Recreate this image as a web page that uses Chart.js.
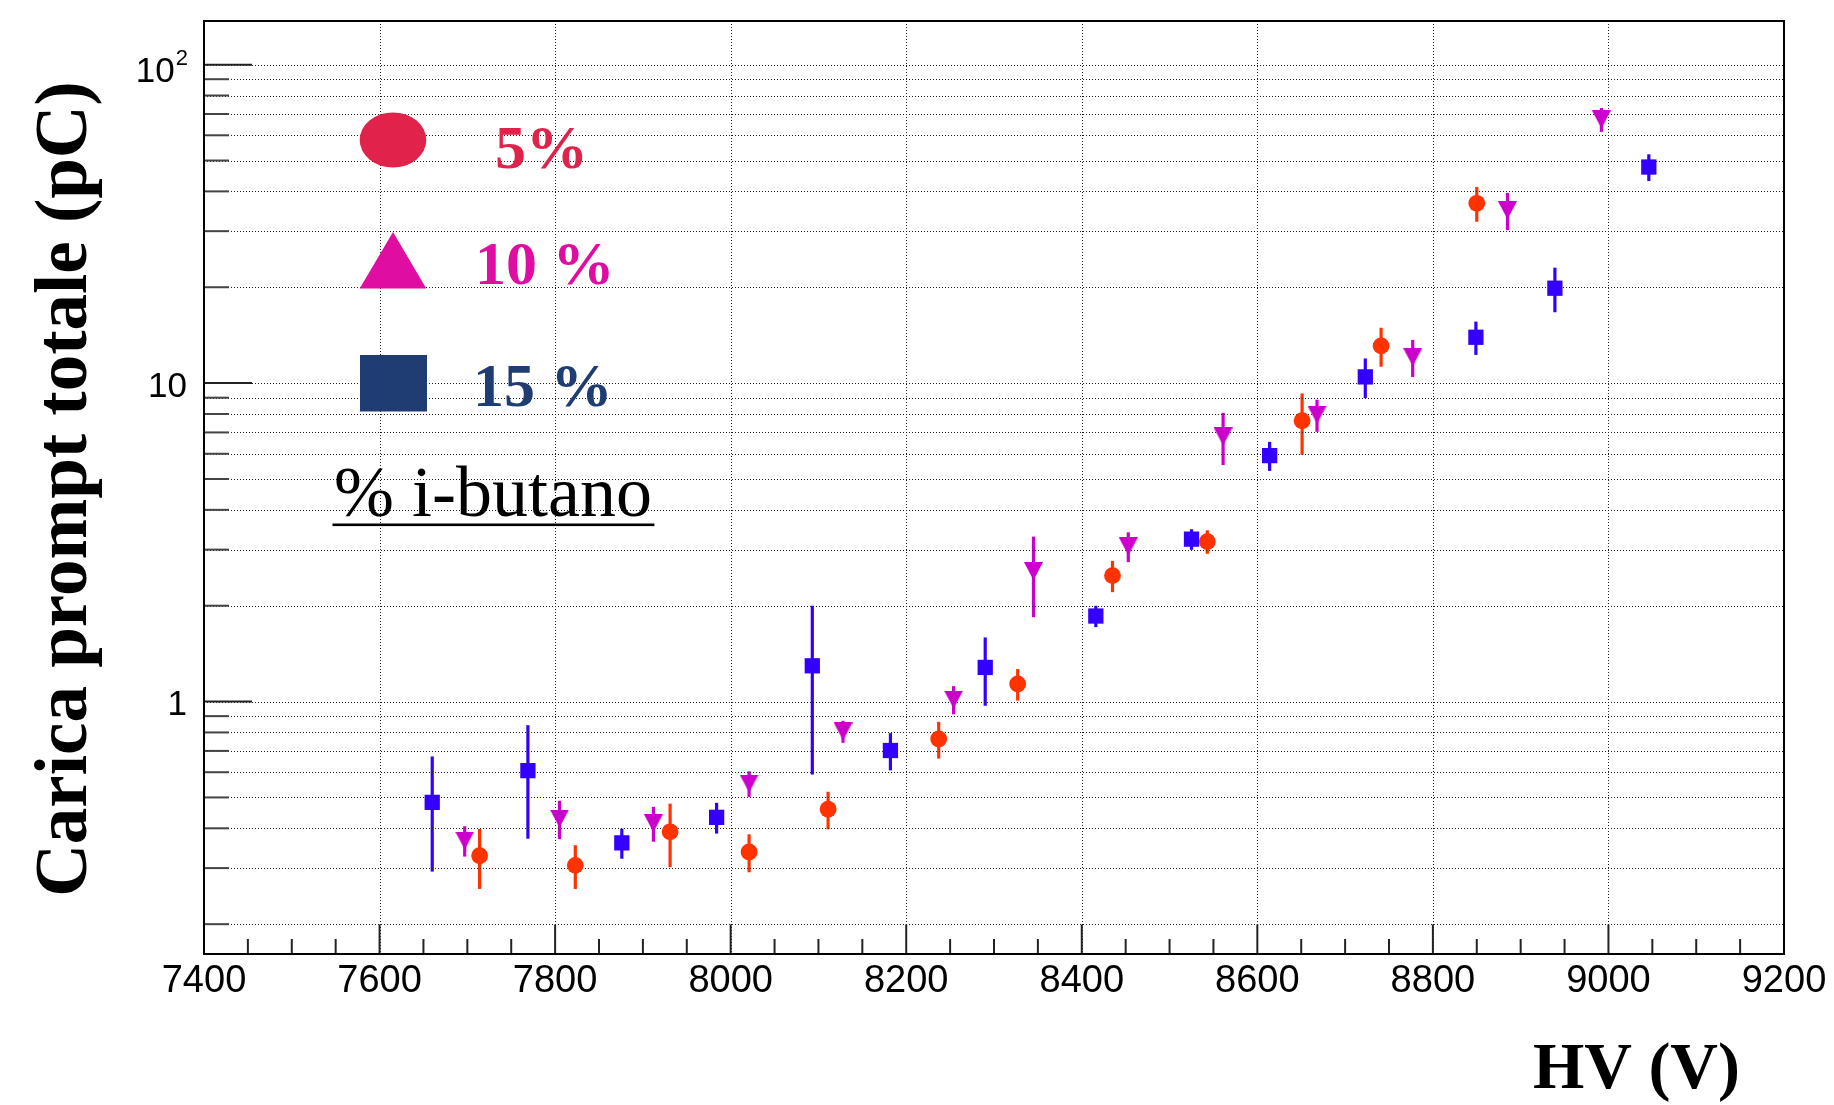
<!DOCTYPE html>
<html>
<head>
<meta charset="utf-8">
<title>Carica prompt totale vs HV</title>
<script src="https://cdn.jsdelivr.net/npm/chart.js@4.4.1/dist/chart.umd.min.js"></script>
<style>
  html, body { margin: 0; padding: 0; background: #fff; }
  canvas { display: block; }
</style>
</head>
<body>
<canvas id="chart" width="1834" height="1105"></canvas>
<script>
// 5% i-butano
const hv5 = [7714, 7823, 7931, 8021, 8111, 8237, 8327, 8435, 8543, 8651, 8741, 8850];
const q5  = [0.328, 0.306, 0.390, 0.337, 0.459, 0.763, 1.136, 2.486, 3.18, 7.62, 13.09, 36.7];
const e5  = [0.070, 0.048, 0.088, 0.046, 0.062, 0.101, 0.129, 0.28, 0.27, 1.66, 1.83, 4.6];

// 10% i-butano
const hv10 = [7697, 7805, 7912, 8021, 8128, 8254, 8345, 8453, 8561, 8668, 8777, 8885, 8992];
const q10  = [0.366, 0.429, 0.415, 0.553, 0.806, 1.015, 2.568, 3.07, 6.8, 7.95, 12.06, 34.9, 67.3];
const e10  = [0.040, 0.059, 0.052, 0.051, 0.064, 0.103, 0.728, 0.33, 1.27, 0.92, 1.61, 4.66, 5.8];

// 15% i-butano
const hv15 = [7660, 7769, 7876, 7984, 8093, 8182, 8290, 8416, 8525, 8614, 8723, 8849, 8939, 9046];
const q15  = [0.4825, 0.607, 0.360, 0.433, 1.295, 0.702, 1.28, 1.856, 3.236, 5.92, 10.46, 13.93, 19.86, 47.7];
const e15  = [0.190, 0.236, 0.039, 0.048, 0.705, 0.094, 0.31, 0.143, 0.24, 0.62, 1.49, 1.67, 3.17, 4.6];

// assi
const xMajor = [7400, 7600, 7800, 8000, 8200, 8400, 8600, 8800, 9000, 9200];
const xMinorStep = 50;
const yMajor = [1, 10, 100];
const yMajorLabels = ['1', '10', '10|2'];
const yMinor = [0.2, 0.3, 0.4, 0.5, 0.6, 0.7, 0.8, 0.9, 2, 3, 4, 5, 6, 7, 8, 9, 20, 30, 40, 50, 60, 70, 80, 90];

const legendLabels = ['5%', '10 %', '15 %'];
const legendTitle = '% i-butano';

const RED = '#ff3300', MAGENTA = '#cc00cc', BLUE = '#3300ff';
const SANS = '"Liberation Sans", Arial, sans-serif';
const SERIF = '"Liberation Serif", "Times New Roman", serif';

function points(xs, ys, es) {
  return xs.map((x, i) => ({ x: x, y: ys[i], err: es[i] }));
}

// triangolo rovesciato centrato sul punto (come il marker 23 di ROOT)
function triangleDown(color, w, h) {
  const c = document.createElement('canvas');
  c.width = w; c.height = h;
  const g = c.getContext('2d');
  g.fillStyle = color;
  g.beginPath();
  g.moveTo(0, 0);
  g.lineTo(w, 0);
  g.lineTo(w / 2, h);
  g.closePath();
  g.fill();
  return c;
}

// barre d'errore verticali, sotto i marker
const errorBars = {
  id: 'errorBars',
  beforeDatasetsDraw(chart) {
    const { ctx, chartArea, scales: { x, y } } = chart;
    ctx.save();
    ctx.beginPath();
    ctx.rect(chartArea.left, chartArea.top, chartArea.right - chartArea.left, chartArea.bottom - chartArea.top);
    ctx.clip();
    chart.data.datasets.forEach(ds => {
      ctx.strokeStyle = ds.pointBackgroundColor;
      ctx.lineWidth = 3.2;
      ds.data.forEach(p => {
        const px = x.getPixelForValue(p.x);
        ctx.beginPath();
        ctx.moveTo(px, y.getPixelForValue(p.y + p.err));
        ctx.lineTo(px, y.getPixelForValue(p.y - p.err));
        ctx.stroke();
      });
    });
    ctx.restore();
  }
};

// cornice, griglia punteggiata, tacche ed etichette in stile ROOT
const rootFrame = {
  id: 'rootFrame',
  beforeDatasetsDraw(chart) {
    const { ctx, chartArea: a, scales: { x, y } } = chart;
    ctx.save();

    // griglia
    ctx.strokeStyle = '#222';
    ctx.lineWidth = 1;
    ctx.setLineDash([1, 2]);
    xMajor.slice(1, -1).forEach(v => {
      const px = Math.round(x.getPixelForValue(v)) + 0.5;
      ctx.beginPath(); ctx.moveTo(px, a.top); ctx.lineTo(px, a.bottom); ctx.stroke();
    });
    yMajor.concat(yMinor).forEach(v => {
      const py = Math.round(y.getPixelForValue(v)) + 0.5;
      ctx.beginPath(); ctx.moveTo(a.left, py); ctx.lineTo(a.right, py); ctx.stroke();
    });
    ctx.setLineDash([]);

    // tacche
    ctx.strokeStyle = '#222';
    ctx.lineWidth = 2;
    for (let v = xMajor[0]; v <= xMajor[xMajor.length - 1]; v += xMinorStep) {
      const px = x.getPixelForValue(v);
      const len = xMajor.includes(v) ? 29.5 : 15;
      ctx.beginPath(); ctx.moveTo(px, a.bottom); ctx.lineTo(px, a.bottom - len); ctx.stroke();
    }
    yMajor.forEach(v => {
      const py = y.getPixelForValue(v);
      ctx.beginPath(); ctx.moveTo(a.left, py); ctx.lineTo(a.left + 48, py); ctx.stroke();
    });
    ctx.strokeStyle = '#444';
    yMinor.forEach(v => {
      const py = y.getPixelForValue(v);
      ctx.beginPath(); ctx.moveTo(a.left, py); ctx.lineTo(a.left + 25, py); ctx.stroke();
    });

    // cornice
    ctx.strokeStyle = '#000';
    ctx.lineWidth = 2;
    ctx.strokeRect(a.left, a.top, a.right - a.left, a.bottom - a.top);

    // etichette asse x
    ctx.fillStyle = '#000';
    ctx.font = '38px ' + SANS;
    ctx.textAlign = 'center';
    ctx.textBaseline = 'alphabetic';
    xMajor.forEach(v => ctx.fillText(String(v), x.getPixelForValue(v), a.bottom + 38));

    // etichette asse y (10|2 = potenza)
    const labelRight = a.left - 17;
    yMajor.forEach((v, i) => {
      const py = y.getPixelForValue(v);
      const parts = yMajorLabels[i].split('|');
      ctx.textAlign = 'right';
      if (parts.length === 1) {
        ctx.font = '35px ' + SANS;
        ctx.fillText(parts[0], labelRight, py + 13.5);
      } else {
        ctx.font = '22px ' + SANS;
        ctx.fillText(parts[1], labelRight + 1, py + 0.5);
        const w = ctx.measureText(parts[1]).width;
        ctx.font = '35px ' + SANS;
        ctx.fillText(parts[0], labelRight - w, py + 17);
      }
    });
    ctx.restore();
  },
  afterDraw(chart) {
    const { ctx } = chart;
    ctx.save();
    ctx.fillStyle = '#000';

    // titoli degli assi
    ctx.font = 'bold 66px ' + SERIF;
    ctx.textAlign = 'right';
    ctx.textBaseline = 'alphabetic';
    ctx.fillText('HV (V)', 1740, 1088);

    ctx.save();
    ctx.translate(86, 489);
    ctx.rotate(-Math.PI / 2);
    ctx.font = 'bold 73px ' + SERIF;
    ctx.textAlign = 'center';
    ctx.fillText('Carica prompt totale (pC)', 0, 0);
    ctx.restore();

    // legenda
    const cx = 393;
    ctx.fillStyle = '#e1224b';
    ctx.beginPath();
    ctx.ellipse(cx, 140, 33.3, 27.6, 0, 0, Math.PI * 2);
    ctx.fill();

    ctx.fillStyle = '#e00da3';
    ctx.beginPath();
    ctx.moveTo(cx, 232);
    ctx.lineTo(cx + 33.3, 288.5);
    ctx.lineTo(cx - 33.3, 288.5);
    ctx.closePath();
    ctx.fill();

    ctx.fillStyle = '#1f3d73';
    ctx.fillRect(360, 355, 67, 56.5);

    ctx.textAlign = 'left';
    ctx.font = 'bold 62px ' + SERIF;
    ctx.fillStyle = '#e1224b';
    ctx.fillText(legendLabels[0], 495, 168);
    ctx.fillStyle = '#e00da3';
    ctx.fillText(legendLabels[1], 475, 284);
    ctx.fillStyle = '#1f3d73';
    ctx.fillText(legendLabels[2], 473, 406);

    ctx.fillStyle = '#000';
    ctx.font = '72px ' + SERIF;
    ctx.fillText(legendTitle, 334, 516);
    const tw = ctx.measureText(legendTitle).width;
    ctx.fillRect(332.5, 523.5, tw + 4, 2.6);

    ctx.restore();
  }
};

new Chart(document.getElementById('chart'), {
  type: 'scatter',
  data: {
    datasets: [
      {
        label: legendLabels[0],
        data: points(hv5, q5, e5),
        pointStyle: 'circle',
        pointRadius: 8.4,
        pointBackgroundColor: RED,
        pointBorderWidth: 0
      },
      {
        label: legendLabels[1],
        data: points(hv10, q10, e10),
        pointStyle: triangleDown(MAGENTA, 19, 18),
        pointRadius: 9,
        pointBackgroundColor: MAGENTA,
        pointBorderWidth: 0
      },
      {
        label: legendLabels[2],
        data: points(hv15, q15, e15),
        pointStyle: 'rect',
        pointRadius: 10.8,
        pointBackgroundColor: BLUE,
        pointBorderWidth: 0
      }
    ]
  },
  options: {
    responsive: false,
    animation: false,
    devicePixelRatio: 1,
    events: [],
    layout: { padding: { left: 204, top: 21, right: 50, bottom: 151 } },
    plugins: {
      legend: { display: false },
      tooltip: { enabled: false }
    },
    scales: {
      x: { type: 'linear', min: 7400, max: 9200, display: false },
      y: { type: 'logarithmic', min: 0.1612, max: 137.1, display: false }
    }
  },
  plugins: [errorBars, rootFrame]
});
</script>
</body>
</html>
